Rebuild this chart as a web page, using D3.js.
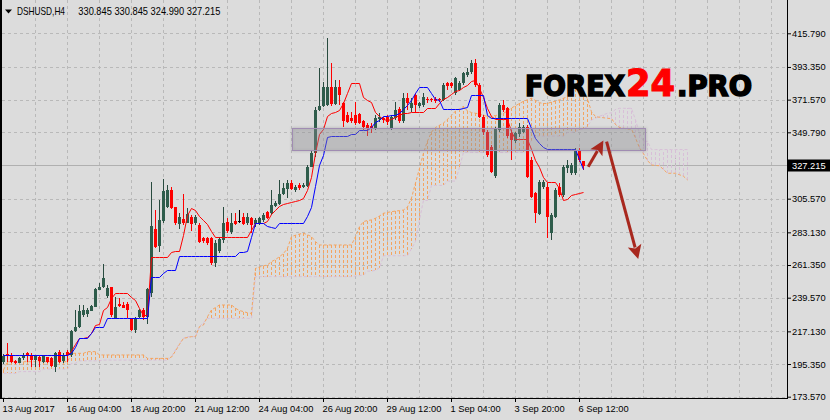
<!DOCTYPE html>
<html><head><meta charset="utf-8">
<script src="https://cdn.jsdelivr.net/npm/d3@7"></script>
<style>html,body{margin:0;padding:0;background:#dcdcdc;}svg{display:block;}</style>
</head><body>
<svg id="chart" width="830" height="420"></svg>
<script>
// ---------------- data ----------------
const symbolLabel = "DSHUSD,H4";
const lastBarOHLC = ["330.845", "330.845", "324.990", "327.215"];
const currentPrice = 327.215;
const priceTicks = [415.79, 393.35, 371.57, 349.79, 305.57, 283.13, 261.35, 239.57, 217.13, 195.35, 173.57];
const timeTickBars = [0, 16, 32, 48, 64, 80, 96, 112, 128, 144];
const timeTickLabels = ["13 Aug 2017", "16 Aug 04:00", "18 Aug 20:00", "21 Aug 12:00", "24 Aug 04:00",
  "26 Aug 20:00", "29 Aug 12:00", "1 Sep 04:00", "3 Sep 20:00", "6 Sep 12:00"];

const opens = [
196.5,201.8,201.4,197.6,196.3,199.1,202.5,201.4,198,199.8,
196.9,199.8,199.1,193.6,203.6,197.6,203.6,201.4,217.4,220.3,
228,228.7,230.7,233.6,245.2,246.5,240.3,246.5,225.8,235.4,
234.7,235.1,225.4,218,226.9,231.4,226.9,242.9,285.2,274,
290.9,300.3,311.4,299.8,288.7,291.8,289.6,293.4,289.1,288,
279.1,279.1,279.1,262.5,270.3,278,290.3,283.6,290.9,290.9,
293.6,289.1,292.5,288.7,289.1,291.4,296.9,295.8,300.7,302,
308.7,312.5,316.3,311.4,314.7,313.1,313.6,326.9,335.8,364.7,
367.4,368,380.3,369.1,380.3,369.1,361.4,359.1,361.4,362,
357.6,354.7,354,352.5,358.5,359.1,360.3,352.5,359.1,365.1,
356.9,372.5,365.8,374.7,367.4,368,371.8,371.8,371.8,371.8,
371.4,382.5,382.5,375.8,378,382.5,388,389.6,395.8,381.4,
360.3,350.3,340.3,320.3,351.4,368,365.8,349.1,343.6,349.1,
350.3,353.6,331.4,309.1,295.8,313.6,313.6,282.5,293.6,313.6,
308,325.8,322.5,322.5,338,330.845];
const highs = [
202,209.1,202.5,198,200.3,202.5,203.6,203,201.4,201,
201.4,200.3,200.3,203.6,204.7,202.5,204.7,218,231.4,234.7,
234.7,232.5,234.7,245.8,249.1,261.8,248,246.9,240.3,239.1,
236.9,236.9,225.8,226.9,231.8,232.5,245.8,316.9,298,304.7,
318.7,314.7,313.6,300.3,295.8,308.5,299.1,294.5,294.7,289.1,
280.3,280.3,280,278,280.3,300.3,292.5,295.8,295.8,298,
295.8,296.3,293.6,292.5,293.6,296.3,297.6,311.4,304,318,
315.8,318,318,314.7,315.8,315.8,328,338,366.9,392.5,
383.6,412.5,395.8,384.7,384.7,370.3,363.6,363.6,370.3,362.5,
358,355.8,355.8,361.4,362.5,360.3,361.4,361.4,370.3,366.9,
375.8,375.8,372.5,375.8,370.3,375.8,373.6,372.5,373,372.5,
382.5,383.6,383,386.9,384,390.3,392.5,398,398.5,382.5,
361.4,351.4,341.4,353.6,369.1,371.4,366.9,351.4,350.3,355.8,
354.7,354.7,333.6,310.3,318,318,315.8,295.8,312.5,315.8,
328,331.4,329.1,339.1,339.1,330.845];
const lows = [
195.5,196.9,195.8,195.5,195.8,198,196.9,193.6,193.6,193.6,
196.3,195.8,193.1,190.3,196.3,195.8,197,200.3,217,219.1,
226.9,226.9,230.7,233.1,244.7,245.8,239.3,226.9,225.8,233.6,
232.5,225.8,217.6,216.3,225.8,224.7,222,240.3,272.5,270.3,
289.6,299.1,298.5,288,285.1,288,289.1,284,288,275.8,
275.8,274.7,261.4,260.3,269.1,275.8,282.5,282,288,289.1,
288,288,282.5,286.9,288,290.3,292,294.7,300,301.4,
308,305.8,311.4,310.3,311.4,312.5,313.1,326.5,333.6,364.3,
366.5,367.4,367.4,368,368,353.6,355.8,355.8,354.7,355.4,
351.4,347.4,349.1,351.4,356.9,356.3,355,351.4,358,355.8,
355.8,364.7,363.6,362.5,366,366.9,369.1,370,369.6,370,
370.9,378,379,374.7,377,381.4,386.9,388.7,380.3,359.1,
348,333.6,322.5,319.1,350.3,363.6,345.8,331.4,342.5,346.9,
349.1,319.1,305.8,289.1,294.7,312,279.1,278,292.5,306.9,
306.9,322.5,321.4,321.4,330.3,324.99];
const closes = [
200.5,200.3,196.9,196.3,199.6,201.4,200.3,198,200.9,196.9,
200.7,196.3,193.6,202.9,196.9,201.4,201.4,217.6,220.3,230.9,
231.4,231.4,234,245.4,246.9,252.5,245.8,227.6,233.6,234,
232.9,231.4,218,225.4,231.4,226.9,245.4,287.4,273.1,291.4,
310.7,311.4,299.1,289.1,293.1,289.1,295.4,288.6,293.1,276.9,
276.9,275.8,262.5,275.8,278.5,289.6,284.3,289.6,288.7,290.9,
289.1,293.1,288,291.4,292.5,294.7,293.1,301.4,302.9,308.7,
312.5,316.3,312.5,313.1,312.5,314.7,326.5,336.3,364.7,367.4,
380.3,380.3,368.7,380.3,374.7,356.9,356.9,356.9,355.8,355.8,
353.6,352.5,352.3,359.1,359.8,357.6,356.9,360.3,364.7,356.9,
372.5,369.1,369.1,368,369.1,373.6,370.9,370.9,370.3,371.4,
381.4,380.3,380.3,385.8,382.5,389.1,390.3,395.8,381.4,360.3,
350.3,334.7,323.6,352.5,368,364.7,346.9,344.7,349.1,353.6,
353.6,320.3,306.9,295.8,316.9,316.9,293.6,294.7,311.4,308,
326.9,328,328,338,331.4,327.215];

// Ichimoku lines (one value per bar)
const tenkan = [
201.2,201.2,201.2,201.2,201.2,201.2,201.2,201.2,201.2,201.2,
201.2,201.2,201.2,201.2,201.2,201.2,201.2,204,209,212.5,
212.5,213.6,215.8,221.4,222,231.4,233.6,239.1,242.5,242.5,
242.5,242.5,239.8,238,232.5,228,228,266.7,266.7,266.7,
266.7,266.7,270.3,270.8,271,281.4,295,299.1,298,294,
291.5,289,284,280.3,280.3,280.3,280.3,280.3,280.3,280.3,
280.3,280.3,284.7,289.1,289.6,289.6,291,295.5,298,300.5,
302,302.9,303.5,304,304.5,305.8,311.4,320.3,336,349,
352,361,362.5,363.6,364.7,369.5,375.8,382.9,382.9,382.9,
373.6,371.4,370.3,363.6,361,359,358,358.5,360,361.5,
362.9,363,363.2,363.3,363.3,363.6,365.8,365.8,365.8,369.1,
372,373,375,377,378,380.1,381,384,384.5,379,
373,366,360.5,358.8,358.8,358.8,358.8,351,345.2,345.2,
345.2,345.2,338.5,331.4,327,320.3,316.9,316.9,316.9,312.5,
305,305.5,308,309,309.6,310.3];
const kijun = [
201.4,201.4,201.4,201.4,201.4,201.4,201.4,201.4,201.4,201.4,
201.4,201.4,201.4,201.4,201.4,201.4,201.4,202.5,207,212.5,
212.5,212.5,215.8,220.3,220.3,220.3,225.8,225.8,225.8,225.8,
225.8,225.8,225.8,225.8,225.8,225.8,225.8,253.6,253.6,253.6,
255.8,258,258,258,267.4,267.4,267.4,267.4,267.4,267.4,
267.4,267.4,267.4,267.4,267.4,267.4,267.4,267.4,267.4,270.3,
270.3,270.9,280.3,289.6,289.6,289.6,287.5,287,285.8,289.6,
289.6,289.6,289.6,289.6,289.6,289.6,294,300,314,328,
335,346.5,347.4,347.4,347.4,347.4,347.4,348.7,348.7,351.4,
351.4,351.4,353.6,357,358,360.7,360.7,361.4,361.4,363,
365.1,368,371.4,376,379.8,379.8,379.8,375.8,371.8,371.4,
365.1,365.1,365.1,365.5,365.5,366.2,366.9,374.7,374.7,374.7,
374.7,361.4,359.1,359.1,359.1,359.1,359.1,359.1,359.1,359.1,
359.1,359.1,353,346,343,340,338.5,338.5,338.5,338.5,
338.5,338.5,338.5,338.5,332,325.5];
const senkouA = [
191.4,196.9,196.9,196.9,196.9,196.9,196.9,196.9,196.9,196.9,
196.9,196.9,196.9,196.9,196.9,196.9,196.9,202.5,202.5,202.5,
202.5,203.6,203.6,203.6,201.4,201.4,201.4,201.4,201.4,201.4,
201.4,201.4,201.4,201.4,201.4,201.4,199.1,199.1,199.1,199.1,
199.1,199.1,200,204,208.5,212.5,213,213.6,213.6,220.3,
221.4,226.9,231.4,233,234.7,234.7,234.7,234.7,232.5,231,
230.3,229.5,229.1,259.1,260,260.8,261.4,263.6,265,266.9,
269,272.5,280.3,281.2,282,282.5,281.5,280.3,276.9,274.7,
274.7,274.7,274.7,274.7,274.7,274.7,274.7,274.7,280.3,286.9,
290.3,291,291.4,292.5,294,295.8,296.4,296.9,297.3,297.6,
298,300,306,316,325.8,336,344,350,353,354.5,
356,358.5,361,364,365.5,367,364,363,362.5,362,
361,360.5,360.5,361,361.5,362.5,364,366,367.5,369,
370.5,371.5,372.5,371,369.5,369,369,370,370.5,371.5,
372.5,373.5,376,378.5,379,376.5,372,363.5,360.3,359.8,
359.5,359.1,359,355,353,352.5,352,352,346,339.5,
335.5,331,328,327.7,327.5,325,322.5,322.5,322.5,321.5,
320.5,318];
const senkouB = [
189.1,189.1,189.1,189.1,190.3,190.3,190.3,190.3,190.3,190.3,
192,192,192,192,192,192,192,195.8,195.8,197.5,
197.5,197.5,197.5,197.5,197.5,198,198,198,198,198,
198,198,198,198,198,198,198,198,198,198,
198,198,200.2,205,209,212.5,213.6,213.6,213.6,220.3,
223,225.8,225.8,225.8,225.8,225.8,225.8,225.8,225.8,225.8,
225.8,225.8,225.8,253.6,253.6,253.6,253.6,253.6,253.6,253.6,
253.6,253.6,253.6,253.6,253.6,253.6,253.6,253.6,253.6,253.6,
253.6,253.6,253.6,253.6,253.6,253.6,253.6,253.6,254,254.3,
254.7,257.3,257.3,257.8,259.5,267.5,267.5,267.5,267.5,267.5,
267.5,267.5,272.2,277,291.6,304.4,304.4,314.4,314.4,314.4,
314.4,317.3,317.3,317.3,326.4,336.4,336.4,336.4,336.4,336.4,
336.4,336.4,336.4,336.4,336.4,336.4,336.4,336.4,336.4,336.4,
336.4,340.8,344.2,347.3,347.3,347.3,347.3,347.3,347.3,347.3,
347.3,349.7,349.7,350.3,351.4,352.2,353.6,358,359.2,360.5,
361.5,362.5,362.8,365,365.8,365.8,365.8,365.8,358,349,
343.8,343.8,338.3,338.3,338.3,338.3,338.3,338.3,338.3,338.3,
338.3,338.3];

// annotations (bar index / price)
const zoneBars = [72.25, 160.5];
const zonePrices = [338.5, 353.0];
const arrowUp = [[146.3, 326.9], [150.1, 344.3]];
const arrowDown = [[150.9, 343.6], [158.8, 265.3]];

// ---------------- drawing ----------------
const svg = d3.select("#chart");
const W = 830, H = 420;
const axisX = 787, axisY = 398;
const x = d3.scaleLinear().domain([0, 196]).range([3, 787]);
const y = d3.scaleLinear().domain([173.57, 415.79]).range([396.7, 33.3]);

const BG = "#dcdcdc", GRID = "#b9b9b9";
const BULL = "#2e5c4b", BULL_WICK = "#294b3f", BEAR = "#ff0000";

const defs = svg.append("defs");
defs.append("clipPath").attr("id", "plot").append("rect")
  .attr("x", 2).attr("y", 0).attr("width", axisX - 2).attr("height", axisY);
const flt = defs.append("filter").attr("id", "soft")
  .attr("x", "-5%").attr("y", "-40%").attr("width", "110%").attr("height", "180%");
flt.append("feDropShadow").attr("dx", 0).attr("dy", 0).attr("stdDeviation", 1.6)
  .attr("flood-color", "#707070").attr("flood-opacity", 0.6);

svg.append("rect").attr("width", W).attr("height", H).attr("fill", BG);

const plot = svg.append("g").attr("clip-path", "url(#plot)");

// grid
const gridG = plot.append("g").attr("stroke", GRID).attr("stroke-dasharray", "3,3").attr("shape-rendering", "crispEdges");
gridG.selectAll("line.h").data(priceTicks).join("line").attr("class", "h")
  .attr("x1", 2).attr("x2", axisX)
  .attr("y1", d => Math.round(y(d)) + 0.5).attr("y2", d => Math.round(y(d)) + 0.5);
gridG.selectAll("line.v").data(d3.range(8, 196, 8)).join("line").attr("class", "v")
  .attr("x1", d => Math.round(x(d)) + 0.5).attr("x2", d => Math.round(x(d)) + 0.5)
  .attr("y1", 0).attr("y2", axisY);

// current price line
plot.append("line").attr("x1", 2).attr("x2", axisX)
  .attr("y1", Math.round(y(currentPrice)) - 0.5).attr("y2", Math.round(y(currentPrice)) - 0.5)
  .attr("stroke", "#b0b0b0").attr("shape-rendering", "crispEdges");

// cloud hatching
const hatch = plot.append("g").attr("stroke-dasharray", "3,2").attr("shape-rendering", "crispEdges");
hatch.selectAll("line").data(senkouA.map((a, i) => ({ i, a, b: senkouB[i] }))).join("line")
  .attr("x1", d => Math.round(x(d.i)) + 0.5).attr("x2", d => Math.round(x(d.i)) + 0.5)
  .attr("y1", d => y(d.a)).attr("y2", d => y(d.b))
  .attr("stroke", d => d.a >= d.b ? "#f4a460" : "#d8bfd8");

const lineGen = d3.line().x((d, i) => Math.round(x(i)) + 0.5).y(d => y(d));
plot.append("path").datum(senkouB).attr("d", lineGen).attr("fill", "none")
  .attr("stroke", "#d8bfd8").attr("stroke-dasharray", "3,2");
plot.append("path").datum(senkouA).attr("d", lineGen).attr("fill", "none")
  .attr("stroke", "#f4a460").attr("stroke-dasharray", "3,2");

// candles
const bars = opens.map((o, i) => ({ i, o, h: highs[i], l: lows[i], c: closes[i] }));
const cg = plot.append("g").attr("shape-rendering", "crispEdges");
const colOf = d => d.c > d.o ? BULL : (d.c < d.o ? BEAR : "#000");
cg.selectAll("line").data(bars).join("line")
  .attr("x1", d => Math.round(x(d.i)) + 0.5).attr("x2", d => Math.round(x(d.i)) + 0.5)
  .attr("y1", d => y(d.h)).attr("y2", d => y(d.l))
  .attr("stroke", d => d.c > d.o ? BULL_WICK : colOf(d));
cg.selectAll("rect").data(bars).join("rect")
  .attr("x", d => Math.round(x(d.i)) - 1).attr("width", 3)
  .attr("y", d => Math.round(y(Math.max(d.o, d.c))))
  .attr("height", d => Math.max(1, Math.round(Math.abs(y(d.o) - y(d.c)))))
  .attr("fill", colOf);

// tenkan & kijun
const tlGen = d3.line().x((d, i) => Math.round(x(i)) + 0.5).y(d => Math.round(y(d)) + 0.5);
plot.append("path").datum(tenkan).attr("d", tlGen).attr("fill", "none").attr("stroke", "#ff0000");
plot.append("path").datum(kijun).attr("d", tlGen).attr("fill", "none").attr("stroke", "#0000ff");

// zone rectangle
plot.append("rect")
  .attr("x", Math.round(x(zoneBars[0])) + 0.5).attr("width", Math.round(x(zoneBars[1]) - x(zoneBars[0])))
  .attr("y", Math.round(y(zonePrices[1])) + 0.5).attr("height", Math.round(y(zonePrices[0]) - y(zonePrices[1])))
  .attr("fill", "rgba(150,150,158,0.28)").attr("stroke", "#a08cb2").attr("stroke-width", 1)
  .attr("filter", "url(#soft)");

// arrows
const ARROW = "#a8281e";
function arrow(a) {
  const p0 = [x(a[0][0]), y(a[0][1])], p1 = [x(a[1][0]), y(a[1][1])];
  const dx = p1[0] - p0[0], dy = p1[1] - p0[1], len = Math.hypot(dx, dy);
  const ux = dx / len, uy = dy / len, nx = -uy, ny = ux;
  const L = 14, Wd = 7;
  const bx = p1[0] - ux * L, by = p1[1] - uy * L;
  plot.append("line").attr("x1", p0[0]).attr("y1", p0[1])
    .attr("x2", bx + ux * 2).attr("y2", by + uy * 2)
    .attr("stroke", ARROW).attr("stroke-width", 3);
  plot.append("path")
    .attr("d", `M${p1[0]},${p1[1]}L${bx + nx * Wd},${by + ny * Wd}L${bx + ux * 3},${by + uy * 3}L${bx - nx * Wd},${by - ny * Wd}Z`)
    .attr("fill", ARROW);
}
arrow(arrowUp);
arrow(arrowDown);

// frame lines
svg.append("rect").attr("x", 0).attr("y", 0).attr("width", 2).attr("height", axisY + 1).attr("fill", "#000");
svg.append("line").attr("x1", 0).attr("x2", axisX + 1).attr("y1", axisY + 0.5).attr("y2", axisY + 0.5)
  .attr("stroke", "#000").attr("shape-rendering", "crispEdges");
svg.append("line").attr("x1", axisX + 0.5).attr("x2", axisX + 0.5).attr("y1", 0).attr("y2", axisY + 1)
  .attr("stroke", "#000").attr("shape-rendering", "crispEdges");

// right axis
const fmt = d3.format(".3f");
const yAxis = svg.append("g").attr("transform", `translate(${axisX},0)`)
  .call(d3.axisRight(y).tickValues(priceTicks).tickFormat(fmt).tickSize(4).tickPadding(1));
yAxis.select(".domain").remove();
yAxis.selectAll("line").attr("stroke", "#000");
yAxis.selectAll("text").attr("font-family", "'Liberation Sans', Arial, sans-serif")
  .attr("font-size", 9.3).attr("fill", "#000");

// current price label
const cpY = Math.round(y(currentPrice)) - 0.5;
svg.append("rect").attr("x", axisX + 1).attr("y", cpY - 6).attr("width", W - axisX - 1).attr("height", 12).attr("fill", "#000");
svg.append("text").attr("x", axisX + 5).attr("y", cpY + 3.3)
  .attr("font-family", "'Liberation Sans', Arial, sans-serif").attr("font-size", 9.3)
  .attr("fill", "#fff").text(fmt(currentPrice));

// bottom axis
const xAxis = svg.append("g").attr("transform", `translate(0,${axisY})`)
  .call(d3.axisBottom(x).tickValues(timeTickBars).tickFormat((d, k) => timeTickLabels[k]).tickSize(4).tickPadding(3));
xAxis.select(".domain").remove();
xAxis.selectAll("line").attr("stroke", "#000");
xAxis.selectAll("text").attr("text-anchor", "start").attr("x", -1)
  .attr("font-family", "'Liberation Sans', Arial, sans-serif").attr("font-size", 9.3).attr("fill", "#000");

// header
svg.append("path").attr("d", "M5,9.5L12,9.5L8.5,13.5Z").attr("fill", "#000");
svg.append("text").attr("x", 17).attr("y", 14.5)
  .attr("font-family", "'Liberation Sans', Arial, sans-serif").attr("font-size", 10.5)
  .attr("textLength", 48).attr("lengthAdjust", "spacingAndGlyphs").attr("fill", "#000").text(symbolLabel);
svg.append("text").attr("x", 78.3).attr("y", 14.5)
  .attr("font-family", "'Liberation Sans', Arial, sans-serif").attr("font-size", 10.2)
  .attr("textLength", 142).attr("lengthAdjust", "spacingAndGlyphs").attr("fill", "#000").text(lastBarOHLC.join(" "));

// watermark logo
const logo = svg.append("g").attr("font-family", "'DejaVu Sans', sans-serif").attr("font-weight", "bold");
logo.append("text").attr("x", 525).attr("y", 95.5).attr("font-size", 27.5)
  .attr("textLength", 100).attr("lengthAdjust", "spacingAndGlyphs")
  .attr("fill", "#000").attr("stroke", "#000").attr("stroke-width", 1.6).text("FOREX");
logo.append("text").attr("x", 626).attr("y", 96).attr("font-size", 38)
  .attr("textLength", 49).attr("lengthAdjust", "spacingAndGlyphs")
  .attr("fill", "#ff0000").attr("stroke", "#ff0000").attr("stroke-width", 1.2).text("24");
logo.append("text").attr("x", 677).attr("y", 95.5).attr("font-size", 27.5)
  .attr("textLength", 75).attr("lengthAdjust", "spacingAndGlyphs")
  .attr("fill", "#000").attr("stroke", "#000").attr("stroke-width", 1.6).text(".PRO");
</script>
</body></html>
